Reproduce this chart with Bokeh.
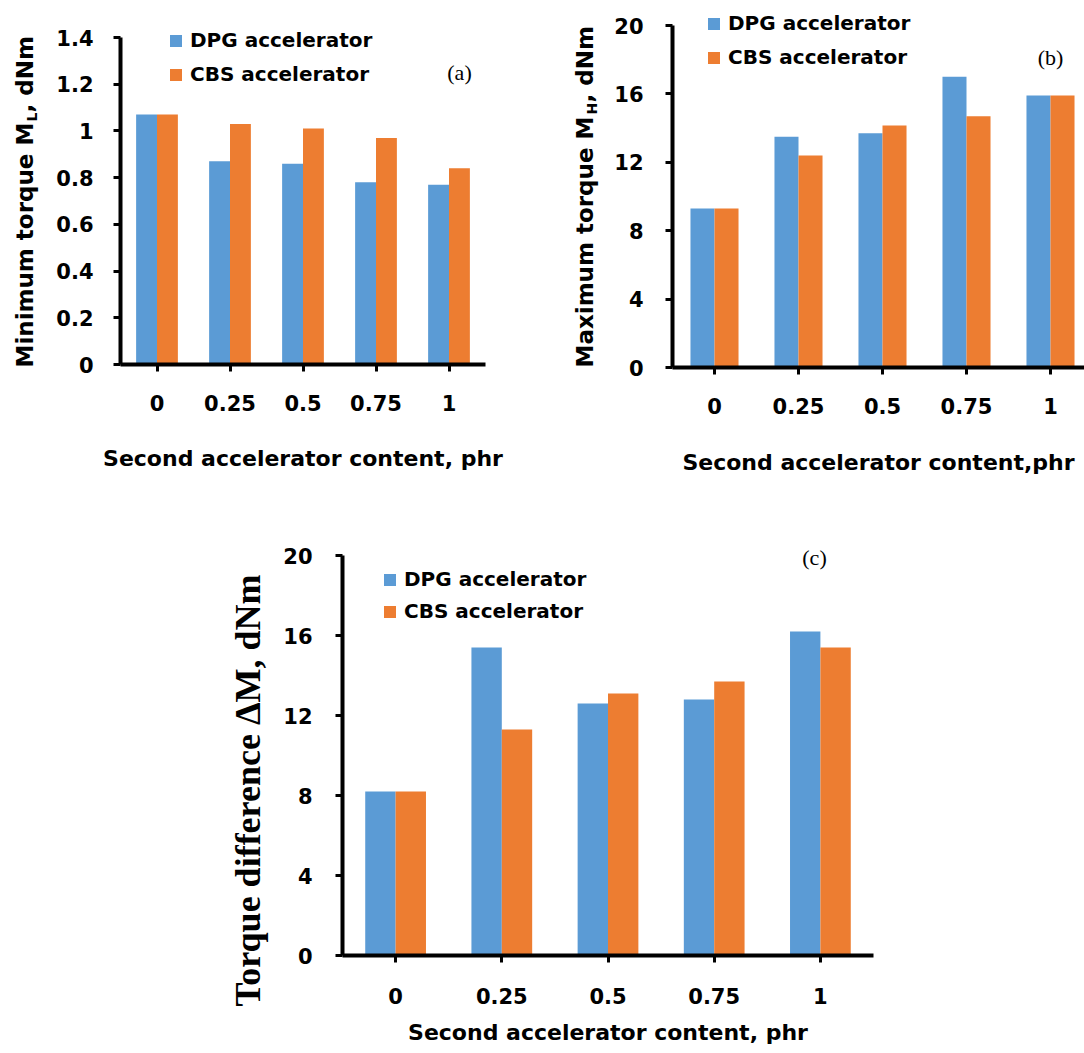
import math
from bokeh.plotting import figure
from bokeh.models import Range1d, FixedTicker, Label, Legend, LegendItem
from bokeh.layouts import column, row, Spacer
from bokeh.embed import file_html
from bokeh.resources import INLINE

# ---------------- data ----------------
categories = ["0", "0.25", "0.5", "0.75", "1"]
series_names = ["DPG accelerator", "CBS accelerator"]

min_torque_dpg = [1.07, 0.87, 0.86, 0.78, 0.77]
min_torque_cbs = [1.07, 1.03, 1.01, 0.97, 0.84]

max_torque_dpg = [9.3, 13.5, 13.7, 17.0, 15.9]
max_torque_cbs = [9.3, 12.4, 14.15, 14.7, 15.9]

delta_dpg = [8.2, 15.4, 12.6, 12.8, 16.2]
delta_cbs = [8.2, 11.3, 13.1, 13.7, 15.4]

yticks_a = [0, 0.2, 0.4, 0.6, 0.8, 1, 1.2, 1.4]
yticks_a_labels = ["0", "0.2", "0.4", "0.6", "0.8", "1", "1.2", "1.4"]
yticks_bc = [0, 4, 8, 12, 16, 20]
yticks_bc_labels = ["0", "4", "8", "12", "16", "20"]

BLUE = "#5B9BD5"
ORANGE = "#ED7D31"
SANS = "DejaVu Sans"
SERIF = "Liberation Serif"
BAR_W = 0.286


def make_panel(width, height, ax_px, ay_px, px_per_x, px_per_y, x_axis_end,
               dpg, cbs, yticks, ylabels, xtitle, tick_standoff_x, title_standoff_x,
               tick_standoff_y, legend_loc, legend_spacing):
    # ax_px / ay_px: pixel position (from the figure's left / top) of x=-0.5 and y=0
    x0 = -0.5 - ax_px / px_per_x
    x1 = x0 + width / px_per_x
    y0 = -(height - ay_px) / px_per_y
    y1 = y0 + height / px_per_y
    if x_axis_end is None:
        x_axis_end = x1
    p = figure(width=width, height=height, output_backend="svg", toolbar_location=None,
               x_range=Range1d(x0, x1), y_range=Range1d(y0, y1),
               min_border=0, min_border_left=0, min_border_right=0,
               min_border_top=0, min_border_bottom=0)
    p.outline_line_color = None
    p.xgrid.visible = False
    p.ygrid.visible = False
    p.background_fill_color = "white"
    p.border_fill_color = "white"

    idx = list(range(len(categories)))
    r1 = p.vbar(x=[i - BAR_W / 2 for i in idx], top=dpg, width=BAR_W, bottom=0,
                fill_color=BLUE, line_color=None)
    r2 = p.vbar(x=[i + BAR_W / 2 for i in idx], top=cbs, width=BAR_W, bottom=0,
                fill_color=ORANGE, line_color=None)

    for ax in (p.xaxis[0], p.yaxis[0]):
        ax.axis_line_width = 4
        ax.axis_line_color = "black"
        ax.major_tick_line_width = 3
        ax.major_tick_line_color = "black"
        ax.major_tick_out = 7
        ax.major_tick_in = 0
        ax.minor_tick_line_color = None
        ax.major_label_text_font = SANS
        ax.major_label_text_font_style = "bold"
        ax.major_label_text_font_size = "21px"
        ax.major_label_text_color = "black"

    p.xaxis.fixed_location = 0
    p.xaxis.bounds = (-0.5, x_axis_end)
    p.xaxis.ticker = FixedTicker(ticks=idx)
    p.xaxis.major_label_overrides = {i: c for i, c in zip(idx, categories)}
    p.xaxis.major_label_standoff = tick_standoff_x
    p.xaxis.axis_label = xtitle
    p.xaxis.axis_label_text_font = SANS
    p.xaxis.axis_label_text_font_style = "bold"
    p.xaxis.axis_label_text_font_size = "22px"
    p.xaxis.axis_label_text_color = "black"
    p.xaxis.axis_label_standoff = title_standoff_x

    p.yaxis.fixed_location = -0.5
    p.yaxis.bounds = (0, yticks[-1])
    p.yaxis.ticker = FixedTicker(ticks=yticks)
    p.yaxis.major_label_overrides = {t: l for t, l in zip(yticks, ylabels)}
    p.yaxis.major_label_standoff = tick_standoff_y

    legend = Legend(items=[LegendItem(label=series_names[0], renderers=[r1]),
                           LegendItem(label=series_names[1], renderers=[r2])],
                    location=legend_loc, orientation="vertical",
                    glyph_width=15, glyph_height=15, label_standoff=7,
                    spacing=legend_spacing, padding=0, margin=0,
                    border_line_color=None, background_fill_alpha=0,
                    label_text_font=SANS, label_text_font_style="bold",
                    label_text_font_size="20px", label_text_color="black",
                    label_height=20)
    p.add_layout(legend)
    return p


def add_text(p, text, x_off, y_off, size, font=SANS, style="bold", angle=0.0,
             align="left", baseline="alphabetic"):
    p.add_layout(Label(x=-0.5, y=0, x_offset=x_off, y_offset=y_off, text=text,
                       angle=angle, text_font=font, text_font_style=style,
                       text_font_size=f"{size}px", text_align=align,
                       text_baseline=baseline, text_color="black"))


ang = math.pi / 2

# ---------------- panel (a) ----------------
pa = make_panel(545, 480, 120, 364, 73.0, 327 / 1.4, 4.5,
                min_torque_dpg, min_torque_cbs, yticks_a, yticks_a_labels,
                "Second accelerator content, phr", 23, 32, 20,
                (168, 394), 10)
add_text(pa, "Minimum torque M", -96, -3, 23, angle=ang)
add_text(pa, "L", -89, 243, 14, angle=ang)
add_text(pa, ", dNm", -96, 252, 23, angle=ang)
add_text(pa, "(a)", 339, 292, 22, font=SERIF, style="normal", align="center", baseline="middle")

# ---------------- panel (b) ----------------
pb = make_panel(539, 480, 127, 367, 84.0, 342 / 20, None,
                max_torque_dpg, max_torque_cbs, yticks_bc, yticks_bc_labels,
                "Second accelerator content,phr", 23, 33, 22,
                (161, 411), 10)
add_text(pb, "Maximum torque M", -88, 0, 23, angle=ang)
add_text(pb, "H", -81, 253, 14, angle=ang)
add_text(pb, ", dNm", -88, 265, 23, angle=ang)
add_text(pb, "(b)", 378, 310, 22, font=SERIF, style="normal", align="center", baseline="middle")

# ---------------- panel (c) ----------------
pc = make_panel(660, 572, 122, 475, 106.2, 20.0, 4.5,
                delta_dpg, delta_cbs, yticks_bc, yticks_bc_labels,
                "Second accelerator content, phr", 25, 13, 23,
                (162, 429), 8)
add_text(pc, "Torque difference \u0394M, dNm", -95, 165, 36, font=SERIF, angle=ang,
         align="center")
add_text(pc, "(c)", 472, 398, 22, font=SERIF, style="normal", align="center", baseline="middle")

layout = column(row(pa, pb), row(Spacer(width=220, height=572), pc))

open("out.html", "w").write(file_html(layout, INLINE))
